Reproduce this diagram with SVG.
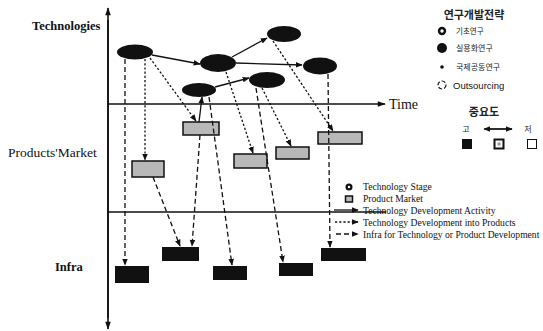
<svg xmlns="http://www.w3.org/2000/svg" width="543" height="331" viewBox="0 0 543 331">
<style>
.lbl{font-family:"Liberation Serif","Times New Roman",serif;fill:#111}
.ax{stroke:#111;stroke-width:1.6;fill:none}
.ell{fill:#111}
.prod{fill:#b8b8b8;stroke:#111;stroke-width:1.5}
.infra{fill:#111}
.act{stroke:#111;stroke-width:1.3;fill:none;marker-end:url(#ah)}
.dot{stroke:#111;stroke-width:1.3;fill:none;stroke-dasharray:2.2 2;marker-end:url(#ah)}
.dash{stroke:#111;stroke-width:1.3;fill:none;stroke-dasharray:5 3;marker-end:url(#ah)}
.kr{font-family:"Noto Sans CJK KR",sans-serif;fill:#222}
.leg{font-family:"Liberation Serif","Times New Roman",serif;font-size:9.6px;fill:#111}
</style>
<defs>
<marker id="ah" viewBox="0 0 10 10" refX="9" refY="5" markerWidth="7" markerHeight="7" markerUnits="userSpaceOnUse" orient="auto"><path d="M0,1 L10,5 L0,9 z" fill="#111"/></marker>
<marker id="axh" viewBox="0 0 10 10" refX="9" refY="5" markerWidth="9" markerHeight="8" markerUnits="userSpaceOnUse" orient="auto"><path d="M0,1.5 L10,5 L0,8.5 z" fill="#111"/></marker>
</defs>

<g id="axes">
<line class="ax" x1="108" y1="318" x2="108" y2="8" marker-end="url(#axh)" stroke-width="2"/>
<line class="ax" x1="108" y1="20" x2="108" y2="329" marker-end="url(#axh)" stroke-width="2"/>
<line class="ax" x1="108" y1="104" x2="385" y2="104" marker-end="url(#axh)"/>
<line class="ax" x1="108" y1="212" x2="386" y2="212"/>
<text class="lbl" x="389" y="109" font-size="14">Time</text>
</g>

<g id="labels">
<text class="lbl" x="32" y="30" font-size="12.5" font-weight="bold">Technologies</text>
<text class="lbl" x="8" y="157" font-size="13.5">Products'Market</text>
<text class="lbl" x="55" y="271" font-size="12.5" font-weight="bold">Infra</text>
</g>

<g id="tech">
<ellipse id="E1" class="ell" cx="135" cy="52" rx="18" ry="7.5"/>
<ellipse id="E2" class="ell" cx="218" cy="63" rx="18" ry="9"/>
<ellipse id="E3" class="ell" cx="284" cy="34" rx="17" ry="8"/>
<ellipse id="E4" class="ell" cx="320" cy="66" rx="17" ry="8.5"/>
<ellipse id="E5" class="ell" cx="267" cy="80" rx="18" ry="8"/>
<ellipse id="E6" class="ell" cx="199" cy="90" rx="17" ry="7"/>
</g>

<g id="products">
<rect id="P1" class="prod" x="132" y="161" width="32" height="16"/>
<rect id="P2" class="prod" x="183" y="122" width="36" height="13"/>
<rect id="P3" class="prod" x="234" y="154" width="33" height="14"/>
<rect id="P4" class="prod" x="276" y="147" width="33" height="12"/>
<rect id="P5" class="prod" x="318" y="132" width="44" height="12"/>
</g>

<g id="infra">
<rect id="I1" class="infra" x="115" y="266" width="34" height="17"/>
<rect id="I2" class="infra" x="162" y="247" width="37" height="14"/>
<rect id="I3" class="infra" x="213" y="266" width="34" height="14"/>
<rect id="I4" class="infra" x="279" y="263" width="34" height="13"/>
<rect id="I5" class="infra" x="321" y="248" width="45" height="13"/>
</g>

<g id="connectors">
<line class="act" x1="152" y1="55" x2="200" y2="64"/>
<line class="act" x1="232" y1="57" x2="267" y2="38"/>
<line class="act" x1="236" y1="63" x2="302" y2="65"/>
<line class="act" x1="215" y1="87" x2="249" y2="78"/>
<line class="act" x1="199" y1="122" x2="202" y2="97"/>
<line class="dot" x1="145" y1="59" x2="145" y2="160"/>
<line class="dot" x1="150" y1="58" x2="196" y2="121"/>
<line class="dot" x1="226" y1="72" x2="253" y2="153"/>
<line class="dot" x1="262" y1="88" x2="291" y2="146"/>
<line class="dot" x1="273" y1="41" x2="333" y2="131"/>
<line class="dash" x1="125" y1="59" x2="125" y2="265"/>
<line class="dash" x1="153" y1="177" x2="180" y2="246"/>
<line class="dash" x1="200" y1="135" x2="192" y2="246"/>
<line class="dash" x1="209" y1="97" x2="232" y2="265"/>
<line class="dash" x1="256" y1="88" x2="283" y2="262"/>
<line class="dash" x1="328" y1="74" x2="330" y2="247"/>
</g>

<g id="legend">
<circle cx="349" cy="187" r="3.5" fill="#111"/><circle cx="349" cy="187" r="1.2" fill="#fff"/>
<rect x="345.5" y="196" width="7" height="6" fill="#bbb" stroke="#111" stroke-width="1.5"/>
<text class="leg" x="363" y="190">Technology Stage</text>
<text class="leg" x="363" y="202">Product Market</text>
<line class="act" x1="334" y1="210" x2="358" y2="210"/>
<text class="leg" x="363" y="214">Technology Development Activity</text>
<line class="dot" x1="335" y1="222" x2="358" y2="222"/>
<text class="leg" x="363" y="226">Technology Development into Products</text>
<line class="dash" x1="336" y1="234" x2="358" y2="234"/>
<text class="leg" x="363" y="238">Infra for Technology or Product Development</text>
</g>

<g id="strategy">
<text class="kr" x="474" y="19" font-size="11" font-weight="bold" text-anchor="middle">연구개발전략</text>
<circle cx="442" cy="31" r="4.2" fill="#111"/><circle cx="442" cy="31" r="1.7" fill="#fff"/>
<text class="kr" x="456" y="34" font-size="7.5" fill="#444">기초연구</text>
<circle cx="442" cy="48" r="5" fill="#111"/>
<text class="kr" x="456" y="51" font-size="8">실용화연구</text>
<circle cx="442" cy="67" r="1.8" fill="#111"/>
<text class="kr" x="456" y="70" font-size="8">국제공동연구</text>
<circle cx="442" cy="85" r="4" fill="none" stroke="#111" stroke-width="1.2" stroke-dasharray="4 2"/>
<text x="453" y="89" font-size="9.5" font-family="Liberation Sans, Arial, sans-serif" fill="#111">Outsourcing</text>
</g>

<g id="importance">
<text class="kr" x="484" y="116" font-size="11" font-weight="bold" text-anchor="middle">중요도</text>
<text class="kr" x="466" y="132" font-size="8" text-anchor="middle">고</text>
<text class="kr" x="528" y="132" font-size="8" text-anchor="middle">저</text>
<line x1="486" y1="129" x2="512" y2="129" stroke="#111" stroke-width="1.3" marker-end="url(#ah)"/>
<line x1="512" y1="129" x2="484" y2="129" stroke="#111" stroke-width="1.3" marker-end="url(#ah)"/>
<rect x="462" y="139" width="10" height="10" fill="#111"/>
<rect x="494.5" y="139.5" width="9" height="9" fill="#fff" stroke="#111" stroke-width="2"/>
<rect x="497.5" y="142.5" width="3" height="3" fill="#999"/>
<rect x="527.5" y="139.5" width="9" height="9" fill="#fff" stroke="#111" stroke-width="1"/>
</g>
</svg>
